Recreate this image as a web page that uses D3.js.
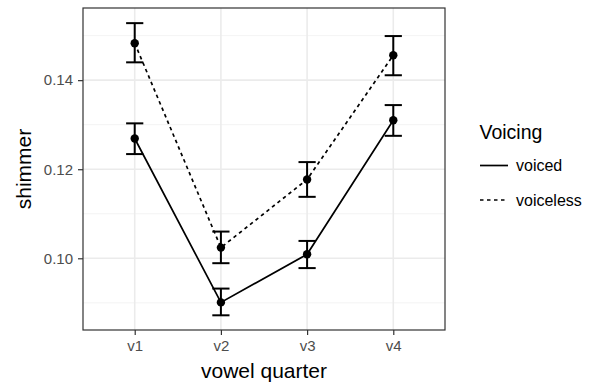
<!DOCTYPE html>
<html lang="en">
<head>
<meta charset="UTF-8">
<title>shimmer by vowel quarter</title>
<script src="https://d3js.org/d3.v7.min.js"></script>
<style>
    body { margin: 0; background: #fff; }
    text { font-family: "Liberation Sans", Arial, sans-serif; }
</style>
</head>
<body>
<div id="chart"></div>
<script>
// data
var quarters = ["v1", "v2", "v3", "v4"];
var voicedMean  = [0.1269, 0.0901, 0.1009, 0.1310];
var voicedLow   = [0.1234, 0.0872, 0.0978, 0.1275];
var voicedHigh  = [0.1303, 0.0932, 0.1039, 0.1344];
var voicelessMean = [0.1483, 0.1024, 0.1177, 0.1456];
var voicelessLow  = [0.1440, 0.0989, 0.1138, 0.1411];
var voicelessHigh = [0.1528, 0.1060, 0.1216, 0.1499];
var yTicks = [0.10, 0.12, 0.14];
var yMinor = [0.09, 0.11, 0.13, 0.15];

var series = [
    { name: "voiced", dash: null, mean: voicedMean, lo: voicedLow, hi: voicedHigh },
    { name: "voiceless", dash: "3.5,3.5", mean: voicelessMean, lo: voicelessLow, hi: voicelessHigh }
];

var W = 596, H = 383;
// panel box ("top" is taken by window.top, so prefix these)
var pLeft = 83, pTop = 8, pRight = 445, pBottom = 330;

var svg = d3.select("#chart").append("svg")
    .attr("width", W).attr("height", H);

var x = d3.scalePoint().domain(quarters).range([pLeft, pRight]).padding(0.6);
var y = d3.scaleLinear().domain([0.0839, 0.1562]).range([pBottom, pTop]);

// grid
svg.selectAll(".minor").data(yMinor).enter().append("line")
    .attr("x1", pLeft).attr("x2", pRight)
    .attr("y1", d => y(d)).attr("y2", d => y(d))
    .style("stroke", "#f2f2f2").style("stroke-width", 0.9);
svg.selectAll(".major").data(yTicks).enter().append("line")
    .attr("x1", pLeft).attr("x2", pRight)
    .attr("y1", d => y(d)).attr("y2", d => y(d))
    .style("stroke", "#ebebeb").style("stroke-width", 1.6);
svg.selectAll(".vgrid").data(quarters).enter().append("line")
    .attr("x1", d => x(d)).attr("x2", d => x(d))
    .attr("y1", pTop).attr("y2", pBottom)
    .style("stroke", "#ebebeb").style("stroke-width", 1.6);

// axes
var yAxis = svg.append("g").attr("transform", "translate(" + pLeft + ",0)")
    .call(d3.axisLeft(y).tickValues(yTicks).tickFormat(d3.format(".2f")).tickSize(5).tickPadding(5));
var xAxis = svg.append("g").attr("transform", "translate(0," + pBottom + ")")
    .call(d3.axisBottom(x).tickSize(5).tickPadding(5));
[yAxis, xAxis].forEach(function(g) {
    g.select(".domain").remove();
    g.selectAll(".tick line").style("stroke", "#333").style("stroke-width", 1.2);
    g.selectAll(".tick text").style("fill", "#4d4d4d").style("font-size", "15px")
        .style("font-family", "Liberation Sans, Arial, sans-serif");
});

// lines, error bars, points
var line = d3.line().x(d => x(d.q)).y(d => y(d.v));
series.forEach(function(s) {
    var pts = quarters.map((q, i) => ({ q: q, v: s.mean[i], lo: s.lo[i], hi: s.hi[i] }));
    svg.append("path").datum(pts).attr("d", line)
        .style("fill", "none").style("stroke", "#000").style("stroke-width", 1.7)
        .style("stroke-dasharray", s.dash);
    var eb = svg.append("g").selectAll("g").data(pts).enter().append("g")
        .style("stroke", "#000").style("stroke-width", 2);
    eb.append("line").attr("x1", d => x(d.q)).attr("x2", d => x(d.q))
        .attr("y1", d => y(d.lo)).attr("y2", d => y(d.hi));
    eb.append("line").attr("x1", d => x(d.q) - 8.6).attr("x2", d => x(d.q) + 8.6)
        .attr("y1", d => y(d.lo)).attr("y2", d => y(d.lo));
    eb.append("line").attr("x1", d => x(d.q) - 8.6).attr("x2", d => x(d.q) + 8.6)
        .attr("y1", d => y(d.hi)).attr("y2", d => y(d.hi));
    svg.append("g").selectAll("circle").data(pts).enter().append("circle")
        .attr("cx", d => x(d.q)).attr("cy", d => y(d.v)).attr("r", 4.2)
        .style("fill", "#000");
});

// panel border
svg.append("rect").attr("x", pLeft).attr("y", pTop)
    .attr("width", pRight - pLeft).attr("height", pBottom - pTop)
    .style("fill", "none").style("stroke", "#333").style("stroke-width", 1.2);

// axis titles
svg.append("text").attr("x", (pLeft + pRight) / 2).attr("y", 378)
    .attr("text-anchor", "middle").style("font-size", "21px").text("vowel quarter");
svg.append("text").attr("transform", "translate(30.5," + ((pTop + pBottom) / 2) + ") rotate(-90)")
    .attr("text-anchor", "middle").style("font-size", "21px").text("shimmer");

// legend
svg.append("text").attr("x", 479.5).attr("y", 139).style("font-size", "19.5px").text("Voicing");
var lg = svg.selectAll(".lg").data(series).enter().append("g")
    .attr("transform", (d, i) => "translate(480," + (165.5 + i * 34.5) + ")");
lg.append("line").attr("x1", 0).attr("x2", 28)
    .style("stroke", "#000").style("stroke-width", 1.7)
    .style("stroke-dasharray", d => d.dash);
lg.append("text").attr("x", 36).attr("y", 5.5).style("font-size", "16px").text(d => d.name);
</script>
</body>
</html>
